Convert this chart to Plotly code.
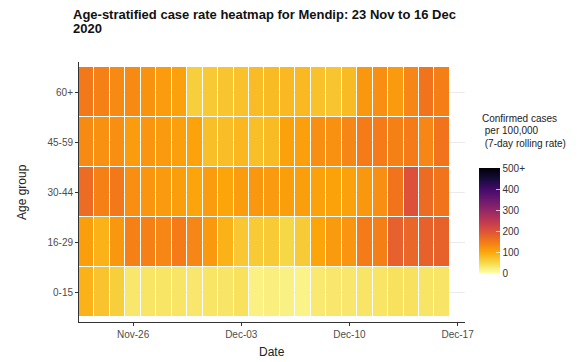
import plotly.graph_objects as go
import pandas as pd

dates = pd.date_range("2020-11-23", "2020-12-16", freq="D")
age_groups = ["0-15", "16-29", "30-44", "45-59", "60+"]

rate_0_15 = [88, 70, 58, 30, 33, 33, 33, 30, 33, 32, 38, 18, 20, 17, 15, 27, 30, 30, 33, 33, 37, 37, 33, 32]
rate_16_29 = [108, 88, 115, 140, 140, 135, 147, 135, 113, 88, 66, 63, 63, 50, 62, 100, 112, 118, 147, 142, 180, 172, 178, 178]
rate_30_44 = [165, 140, 150, 125, 118, 112, 108, 100, 110, 100, 110, 114, 112, 108, 108, 105, 103, 105, 115, 125, 155, 200, 165, 155]
rate_45_59 = [130, 122, 125, 110, 118, 112, 106, 102, 74, 76, 82, 74, 78, 105, 106, 125, 123, 135, 147, 147, 140, 147, 135, 155]
rate_60_plus = [150, 140, 130, 130, 120, 110, 105, 58, 64, 68, 72, 77, 78, 80, 80, 72, 68, 78, 115, 125, 112, 135, 155, 142]

z = [rate_0_15, rate_16_29, rate_30_44, rate_45_59, rate_60_plus]

cb_ticks = [0, 100, 200, 300, 400, 500]
cb_labels = ["0", "100", "200", "300", "400", "500+"]
x_ticks = ["2020-11-26", "2020-12-03", "2020-12-10", "2020-12-17"]

title_lines = ["Age-stratified case rate heatmap for Mendip: 23 Nov to 16 Dec", "2020"]
legend_lines = ["Confirmed cases", "\u00a0per 100,000", "\u00a0(7-day rolling rate)"]

inferno_r = [
    [0.0, "#fcffa4"], [0.1, "#f6d746"], [0.2, "#fca50a"], [0.3, "#f37819"],
    [0.4, "#dd513a"], [0.5, "#bc3754"], [0.6, "#932667"], [0.7, "#6a176e"],
    [0.8, "#420a68"], [0.9, "#160b39"], [1.0, "#000004"],
]

# page body has an 8px margin: figure coords = screen coords - 8
OFF = 8
W, H = 585 - OFF, 362 - OFF
L, R, T, B = 79 - OFF, 465 - OFF, 62 - OFF, 322 - OFF
pw, ph = R - L, B - T


def px(xs):
    return (xs - OFF - L) / pw


def py(ys):
    return (B - (ys - OFF)) / ph


fig = go.Figure(go.Heatmap(
    x=dates, y=age_groups, z=z,
    colorscale=inferno_r, zmin=0, zmax=500,
    xgap=1, ygap=1,
    colorbar=dict(
        x=px(479), xanchor="left", xpad=0,
        y=py(220.5), yanchor="middle", ypad=0,
        len=105, lenmode="pixels", thickness=21,
        outlinewidth=0,
        tickvals=cb_ticks, ticktext=cb_labels,
        ticks="inside", tickcolor="rgba(255,255,255,0.7)", ticklen=4,
        tickfont=dict(family="Liberation Sans, Arial", size=10, color="#333333"),
    ),
))

annotations = []
for i, t in enumerate(title_lines):
    annotations.append(dict(
        text="<b>" + t + "</b>", xref="paper", yref="paper",
        x=px(71), y=py(14 + 14 * i), xanchor="left", yanchor="middle",
        showarrow=False,
        font=dict(family="Liberation Sans, Arial", size=13, color="#111111"),
    ))
for i, t in enumerate(legend_lines):
    annotations.append(dict(
        text=t, xref="paper", yref="paper",
        x=px(480), y=py(118 + 12.5 * i), xanchor="left", yanchor="middle",
        showarrow=False,
        font=dict(family="Liberation Sans, Arial", size=10, color="#222222"),
    ))
annotations.append(dict(
    text="Date", xref="paper", yref="paper",
    x=px(272), y=py(352), xanchor="center", yanchor="middle", showarrow=False,
    font=dict(family="Liberation Sans, Arial", size=12, color="#222222"),
))
annotations.append(dict(
    text="Age group", xref="paper", yref="paper",
    x=px(22), y=py(192), xanchor="center", yanchor="middle", showarrow=False,
    textangle=-90,
    font=dict(family="Liberation Sans, Arial", size=12, color="#222222"),
))

fig.update_layout(
    width=W, height=H,
    margin=dict(l=L, r=W - R, t=T, b=H - B, autoexpand=False),
    paper_bgcolor="white", plot_bgcolor="white",
    font=dict(family="Liberation Sans, Arial", color="#333333"),
    xaxis=dict(
        type="date", automargin=False,
        range=["2020-11-22 12:00", "2020-12-17 11:30"],
        tickvals=x_ticks, tickformat="%b-%d",
        ticks="outside", ticklen=3, tickcolor="#333333",
        showline=True, linecolor="#333333", linewidth=1,
        showgrid=False, zeroline=False,
        tickfont=dict(size=10, color="#4d4d4d"),
    ),
    yaxis=dict(
        type="category", automargin=False,
        categoryorder="array", categoryarray=age_groups,
        range=[-0.6, 4.6],
        ticks="outside", ticklen=3, tickcolor="#333333",
        showline=True, linecolor="#333333", linewidth=1,
        showgrid=True, gridcolor="#ebebeb", gridwidth=1,
        zeroline=False,
        tickfont=dict(size=10, color="#4d4d4d"),
    ),
    annotations=annotations,
)

fig.write_html("out.html")
